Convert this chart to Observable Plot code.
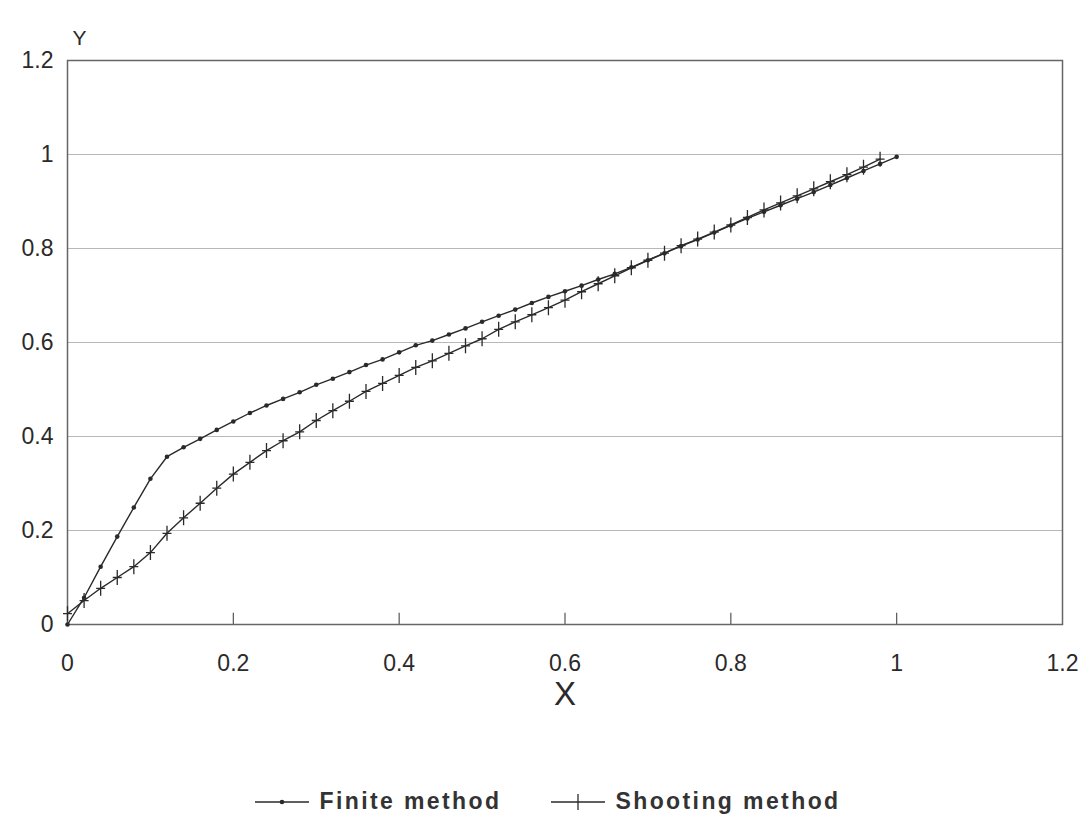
<!DOCTYPE html>
<html>
<head>
<meta charset="utf-8">
<script src="https://cdn.jsdelivr.net/npm/d3@7"></script>
<script src="https://cdn.jsdelivr.net/npm/@observablehq/plot@0.6"></script>
<style>
  html, body { margin: 0; padding: 0; background: #fff; }
  #chart svg { display: block; }
  .legend { display: flex; justify-content: center; align-items: center; gap: 50px;
            margin-top: 48px; padding-left: 12px; font-family: "Liberation Sans", Arial, sans-serif;
            font-size: 23px; font-weight: bold; letter-spacing: 2.4px; color: #333; }
  .legend .item { display: flex; align-items: center; gap: 10px; }
</style>
</head>
<body>
<div id="chart"></div>
<div class="legend">
  <div class="item">
    <svg width="54" height="20"><line x1="0" y1="10" x2="54" y2="10" stroke="#2a2a2a" stroke-width="1.4"/><circle cx="27" cy="10" r="2.3" fill="#2a2a2a"/></svg>
    <span>Finite method</span>
  </div>
  <div class="item">
    <svg width="54" height="20"><line x1="0" y1="10" x2="54" y2="10" stroke="#2a2a2a" stroke-width="1.4"/><line x1="27" y1="2" x2="27" y2="18" stroke="#2a2a2a" stroke-width="1.3"/></svg>
    <span>Shooting method</span>
  </div>
</div>
<script>
const xTicks = [0, 0.2, 0.4, 0.6, 0.8, 1, 1.2];
const yTicks = [0, 0.2, 0.4, 0.6, 0.8, 1, 1.2];

const finiteX = [0, 0.02, 0.04, 0.06, 0.08, 0.10, 0.12, 0.14, 0.16, 0.18,
  0.20, 0.22, 0.24, 0.26, 0.28, 0.30, 0.32, 0.34, 0.36, 0.38,
  0.40, 0.42, 0.44, 0.46, 0.48, 0.50, 0.52, 0.54, 0.56, 0.58,
  0.60, 0.62, 0.64, 0.66, 0.68, 0.70, 0.72, 0.74, 0.76, 0.78,
  0.80, 0.82, 0.84, 0.86, 0.88, 0.90, 0.92, 0.94, 0.96, 0.98, 1.00];
const finiteY = [0, 0.057, 0.123, 0.187, 0.249, 0.31, 0.357, 0.377, 0.395, 0.414,
  0.432, 0.45, 0.466, 0.48, 0.494, 0.51, 0.523, 0.537, 0.552, 0.564,
  0.579, 0.594, 0.604, 0.617, 0.63, 0.644, 0.657, 0.67, 0.684, 0.697,
  0.709, 0.721, 0.734, 0.746, 0.76, 0.775, 0.79, 0.805, 0.819, 0.834,
  0.849, 0.864, 0.878, 0.892, 0.906, 0.92, 0.935, 0.95, 0.965, 0.98, 0.995];

const shootX = [0, 0.02, 0.04, 0.06, 0.08, 0.10, 0.12, 0.14, 0.16, 0.18,
  0.20, 0.22, 0.24, 0.26, 0.28, 0.30, 0.32, 0.34, 0.36, 0.38,
  0.40, 0.42, 0.44, 0.46, 0.48, 0.50, 0.52, 0.54, 0.56, 0.58,
  0.60, 0.62, 0.64, 0.66, 0.68, 0.70, 0.72, 0.74, 0.76, 0.78,
  0.80, 0.82, 0.84, 0.86, 0.88, 0.90, 0.92, 0.94, 0.96, 0.98];
const shootY = [0.023, 0.051, 0.077, 0.10, 0.123, 0.153, 0.194, 0.227, 0.258, 0.29,
  0.32, 0.345, 0.37, 0.391, 0.41, 0.434, 0.455, 0.475, 0.496, 0.513,
  0.53, 0.547, 0.561, 0.577, 0.593, 0.608, 0.628, 0.644, 0.659, 0.674,
  0.69, 0.708, 0.725, 0.742, 0.759, 0.775, 0.79, 0.806, 0.82, 0.835,
  0.85, 0.866, 0.882, 0.897, 0.912, 0.927, 0.942, 0.957, 0.973, 0.99];

const finite = finiteX.map((x, i) => ({x, y: finiteY[i]}));
const shooting = shootX.map((x, i) => ({x, y: shootY[i]}));
const fmt = d3.format("~g");
const ink = "#2a2a2a";

// plus marker with a tall vertical bar and a short horizontal arm
const tallPlus = {
  draw(context, size) {
    const r = Math.sqrt(size / Math.PI);
    context.moveTo(0, -r); context.lineTo(0, r);
    context.moveTo(-r * 0.6, 0); context.lineTo(r * 0.6, 0);
  }
};

const chart = Plot.plot({
  width: 1084,
  height: 740,
  marginLeft: 67,
  marginRight: 22,
  marginTop: 60,
  marginBottom: 116,
  style: {fontFamily: "'Liberation Sans', Arial, sans-serif", fontSize: "23px", color: ink, background: "#fff"},
  x: {domain: [0, 1.2]},
  y: {domain: [0, 1.2]},
  marks: [
    Plot.gridY(yTicks.filter(d => d > 0 && d < 1.2), {stroke: "#b8b8b8", strokeOpacity: 1, strokeWidth: 1.2}),
    Plot.ruleX(xTicks.filter(d => d > 0 && d < 1.2), {x: d => d, y1: 0, y2: 0.024, stroke: "#555", strokeWidth: 1.2}),
    Plot.frame({stroke: "#666", strokeWidth: 1.5}),
    Plot.axisX({ticks: xTicks, tickFormat: fmt, tickSize: 0, tickPadding: 30, label: null, fontSize: 23, fill: ink}),
    Plot.axisY({ticks: yTicks, tickFormat: fmt, tickSize: 0, tickPadding: 14, label: null, fontSize: 23, fill: ink}),
    Plot.text(["Y"], {frameAnchor: "top-left", dx: 5, dy: -30, fontSize: 21, fill: ink}),
    Plot.text(["X"], {frameAnchor: "bottom", dy: 80, fontSize: 33, fontWeight: 300, fill: ink}),
    Plot.line(finite, {x: "x", y: "y", stroke: ink, strokeWidth: 1.4}),
    Plot.dot(finite, {x: "x", y: "y", r: 2.3, fill: ink, stroke: "none"}),
    Plot.line(shooting, {x: "x", y: "y", stroke: ink, strokeWidth: 1.4}),
    Plot.dot(shooting, {x: "x", y: "y", symbol: tallPlus, r: 7.5, fill: "none", stroke: ink, strokeWidth: 1.3})
  ]
});
document.getElementById("chart").appendChild(chart);
</script>
</body>
</html>
